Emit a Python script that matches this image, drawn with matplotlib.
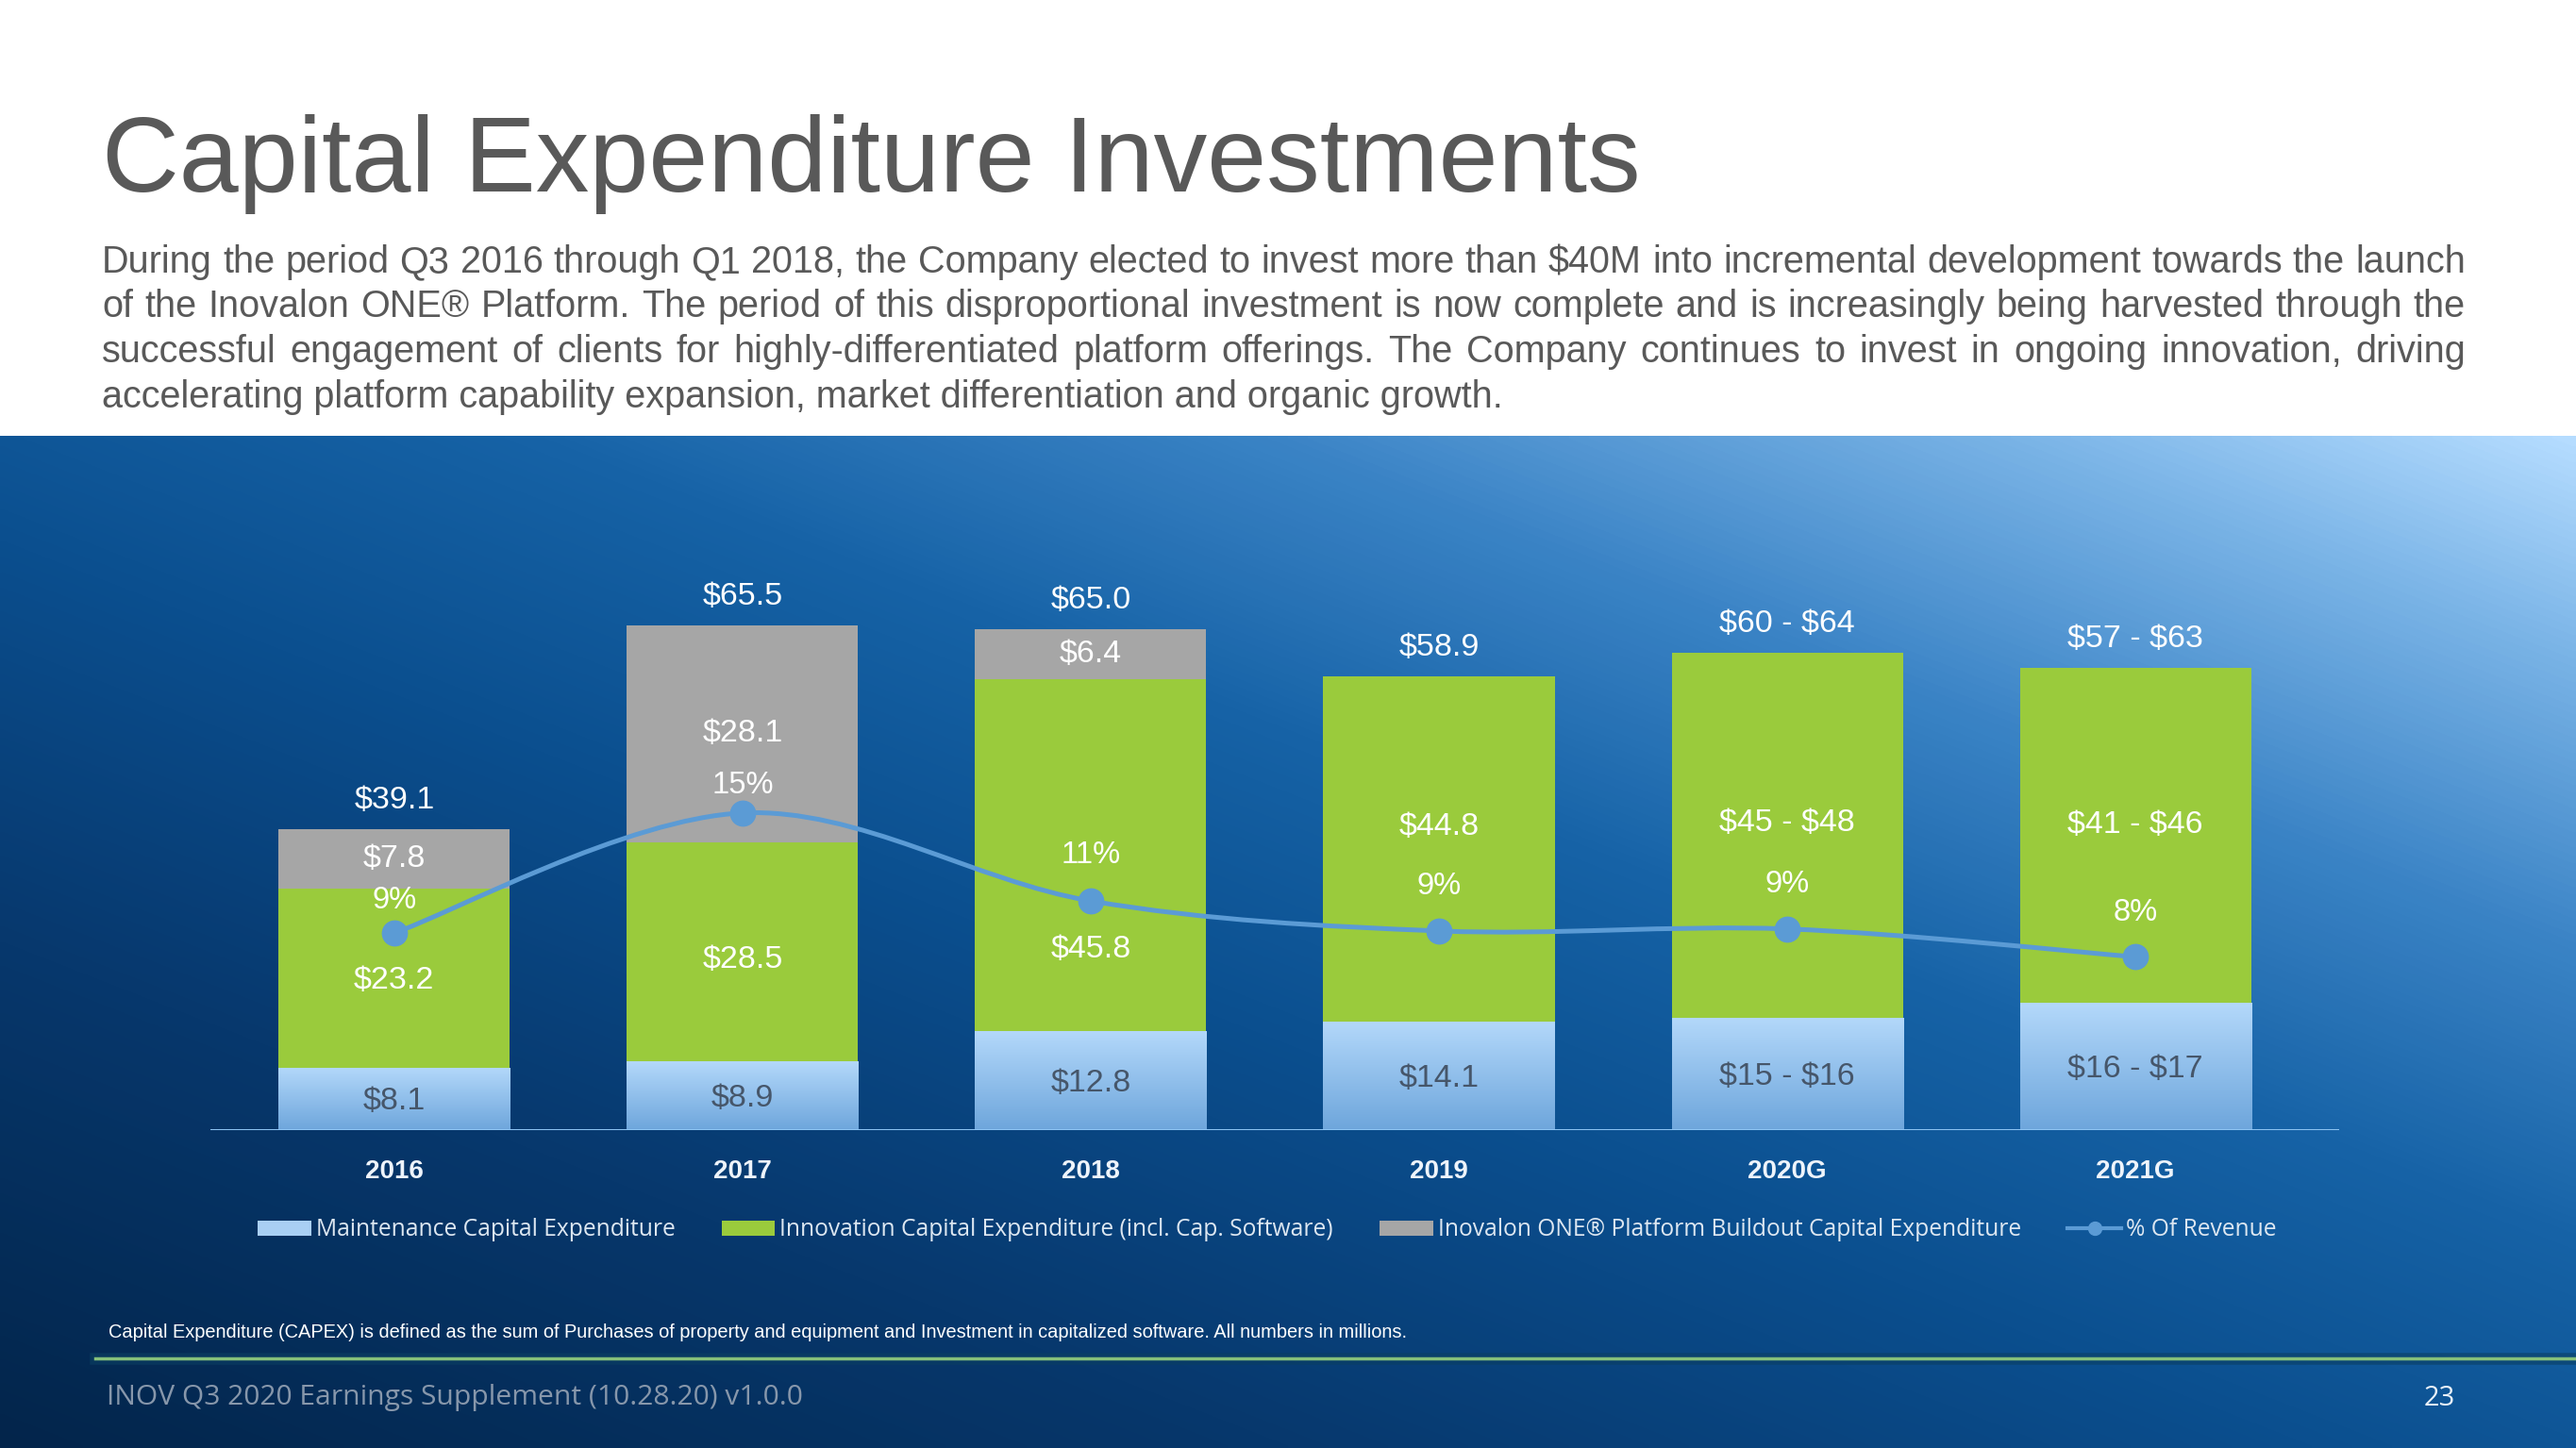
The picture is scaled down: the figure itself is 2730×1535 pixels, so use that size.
import numpy as np
import matplotlib
matplotlib.use("Agg")
import matplotlib.pyplot as plt
from matplotlib.colors import LinearSegmentedColormap
from matplotlib.path import Path
from matplotlib.patches import PathPatch, Patch
from matplotlib.lines import Line2D

# ---- data (millions $) ----
years = ["2016", "2017", "2018", "2019", "2020G", "2021G"]
maintenance = [8.1, 8.9, 12.8, 14.1, 14.6, 16.5]
innovation = [23.2, 28.5, 45.8, 44.8, 47.4, 43.5]
platform = [7.8, 28.1, 6.4, 0, 0, 0]
pct_revenue = [9.0, 15.0, 10.6, 9.1, 9.2, 7.8]

total_labels = ["$39.1", "$65.5", "$65.0", "$58.9", "$60 - $64", "$57 - $63"]
maint_labels = ["$8.1", "$8.9", "$12.8", "$14.1", "$15 - $16", "$16 - $17"]
innov_labels = ["$23.2", "$28.5", "$45.8", "$44.8", "$45 - $48", "$41 - $46"]
platform_labels = ["$7.8", "$28.1", "$6.4", "", "", ""]

legend_labels = ["Maintenance Capital Expenditure",
                 "Innovation Capital Expenditure (incl. Cap. Software)",
                 "Inovalon ONE\u00ae Platform Buildout Capital Expenditure",
                 "% Of Revenue"]

title = "Capital Expenditure Investments"
body = ["During the period Q3 2016 through Q1 2018, the Company elected to invest more than $40M into incremental development towards the launch",
        "of the Inovalon ONE\u00ae Platform. The period of this disproportional investment is now complete and is increasingly being harvested through the",
        "successful engagement of clients for highly-differentiated platform offerings. The Company continues to invest in ongoing innovation, driving",
        "accelerating platform capability expansion, market differentiation and organic growth."]
note = "Capital Expenditure (CAPEX) is defined as the sum of Purchases of property and equipment and Investment in capitalized software. All numbers in millions."
footer = "INOV Q3 2020 Earnings Supplement (10.28.20) v1.0.0"
page = "23"

# label nudges (points)
innov_dy = [-2, -6, -72, 17, 9, 8]
pct_dy = [25, 21, 35, 34, 34, 34]

GREEN = "#9acb3c"
GRAY = "#a6a6a6"
LINE = "#5b9bd5"
W, H = 2730, 1535


def esc(s):
    return s.replace("$", r"\$")


fig = plt.figure(figsize=(W / 100, H / 100), dpi=100, facecolor="white")

# ---- blue gradient background ----
bg = fig.add_axes([0, 0, 1, 1 - 462 / H], zorder=-10)
bg.axis("off")
cmap = LinearSegmentedColormap.from_list("bg", [
    (0.0, "#03254b"), (0.25, "#07386d"), (0.45, "#0b4f8f"), (0.6, "#1662a6"),
    (0.75, "#3b84c6"), (0.9, "#7db6e8"), (1.0, "#b5dcff")])
gx, gy = np.meshgrid(np.linspace(0, 1, 400), np.linspace(0, 1, 200))
bg.imshow((gx + gy) / 2, cmap=cmap, origin="lower", aspect="auto",
          extent=[0, 1, 0, 1], interpolation="bilinear")
bg.set_xlim(0, 1)
bg.set_ylim(0, 1)

# ---- chart axes ----
x = np.arange(len(years))
left, right = 223 / W, 2479 / W
bottom, top = 1 - 1198 / H, 1 - 585.6 / H
ax = fig.add_axes([left, bottom, right - left, top - bottom])
ax.patch.set_alpha(0)
width = 0.664

maint = np.array(maintenance)
innov = np.array(innovation)
plat = np.array(platform)

b1 = ax.bar(x, maint, width, color="#a9cff3", zorder=2)
b2 = ax.bar(x, innov, width, bottom=maint, color=GREEN, zorder=2)
b3 = ax.bar(x, plat, width, bottom=maint + innov, color=GRAY, zorder=2)

# gradient fill for maintenance bars
grad = LinearSegmentedColormap.from_list("m", ["#6ea6dc", "#b3d8fa"])
for r in b1:
    im = ax.imshow(np.linspace(0, 1, 100).reshape(-1, 1), cmap=grad, origin="lower",
                   aspect="auto", zorder=2.5,
                   extent=[r.get_x(), r.get_x() + r.get_width(), 0, r.get_height()])
    im.set_clip_path(r)

ax.set_xlim(-0.528, 5.585)
ax.set_ylim(0, 75)
ax.axhline(0, color="#8cc3f2", lw=2.2, zorder=3)
for s in ax.spines.values():
    s.set_visible(False)
ax.set_yticks([])
ax.set_xticks(x)
ax.set_xticklabels(years, fontsize=20, fontweight="bold", color="#eef4fb",
                   family="Liberation Sans")
ax.tick_params(axis="x", length=0, pad=22)

lab = dict(ha="center", va="center", fontsize=24.5, family="Liberation Sans",
           textcoords="offset points", zorder=5)
totals = maint + innov + plat
for i in x:
    ax.annotate(esc(total_labels[i]), (i, totals[i]), xytext=(0, 22), color="white", **lab)
    ax.annotate(esc(maint_labels[i]), (i, maint[i] / 2), xytext=(0, -2), color="#46566a", **lab)
    ax.annotate(esc(innov_labels[i]), (i, maint[i] + innov[i] / 2), xytext=(0, innov_dy[i]),
                color="white", **lab)
    if platform_labels[i]:
        ax.annotate(esc(platform_labels[i]), (i, maint[i] + innov[i] + plat[i] / 2),
                    xytext=(0, 0), color="white", **lab)

# ---- % of revenue, smoothed line on twin axis ----
ax2 = ax.twinx()
ax2.set_ylim(-0.86, 28.03)
ax2.axis("off")
pts = np.column_stack([x, pct_revenue]).astype(float)
verts, codes = [pts[0]], [Path.MOVETO]
n = len(pts)
for i in range(n - 1):
    p0, p1, p2, p3 = pts[max(i - 1, 0)], pts[i], pts[i + 1], pts[min(i + 2, n - 1)]
    verts += [p1 + (p2 - p0) / 6, p2 - (p3 - p1) / 6, p2]
    codes += [Path.CURVE4] * 3
ax2.add_patch(PathPatch(Path(verts, codes), fill=False, edgecolor=LINE, lw=3.6, zorder=4))
ax2.plot(x, pct_revenue, "o", color=LINE, ms=19, zorder=5)
for i in x:
    ax2.annotate(f"{round(pct_revenue[i])}%", (i, pct_revenue[i]), xytext=(0, pct_dy[i]),
                 ha="center", va="center", fontsize=23.5, color="white",
                 family="Liberation Sans", textcoords="offset points", zorder=6)

# ---- legend ----
handles = [Patch(facecolor="#a9cff3"), Patch(facecolor=GREEN), Patch(facecolor=GRAY),
           Line2D([], [], color=LINE, lw=3, marker="o", ms=10)]
fig.legend(handles, legend_labels, ncols=4, loc="center left",
           bbox_to_anchor=(273 / W, 1 - 1304 / H), frameon=False,
           prop={"family": "Open Sans", "size": 17.75}, labelcolor="#dde7f1",
           handlelength=2.3, handleheight=0.6, handletextpad=0.2,
           columnspacing=2.0, borderpad=0, borderaxespad=0)

# ---- title & body text ----
fig.text(108 / W, 1 - 174 / H, title, fontsize=81.5, color="#595959",
         family="Liberation Sans", va="center", ha="left")

renderer = fig.canvas.get_renderer()
x0, x1 = 108, 2613
for k, line in enumerate(body):
    y = 1 - (278 + k * 47.5) / H
    if k == len(body) - 1:
        fig.text(x0 / W, y, esc(line), fontsize=28.5, color="#595959",
                 family="Liberation Sans", va="center")
        continue
    words = line.split()
    ts = [fig.text(0, y, esc(w), fontsize=28.5, color="#595959",
                   family="Liberation Sans", va="center") for w in words]
    widths = [t.get_window_extent(renderer).width for t in ts]
    gap = (x1 - x0 - sum(widths)) / (len(words) - 1)
    pos = x0
    for t, wd in zip(ts, widths):
        t.set_x(pos / W)
        pos += wd + gap

# ---- footnote and footer ----
fig.text(115 / W, 1 - 1413 / H, note, fontsize=14.4, color="white",
         family="Liberation Sans", va="center")
fig.add_artist(Line2D([101 / W, 1], [1 - 1440 / H] * 2, color="#0b3f62", lw=9, alpha=0.6))
fig.add_artist(Line2D([101 / W, 1], [1 - 1440 / H] * 2, color="#86c07a", lw=2.5))
fig.text(113 / W, 1 - 1482 / H, footer, fontsize=21.6, color="#8797ab",
         family="Open Sans", va="center")
fig.text(2585 / W, 1 - 1482 / H, page, fontsize=21, color="#e8f0f8",
         family="Open Sans", va="center", ha="center")

fig.savefig("out.png", dpi=100, facecolor="white")
